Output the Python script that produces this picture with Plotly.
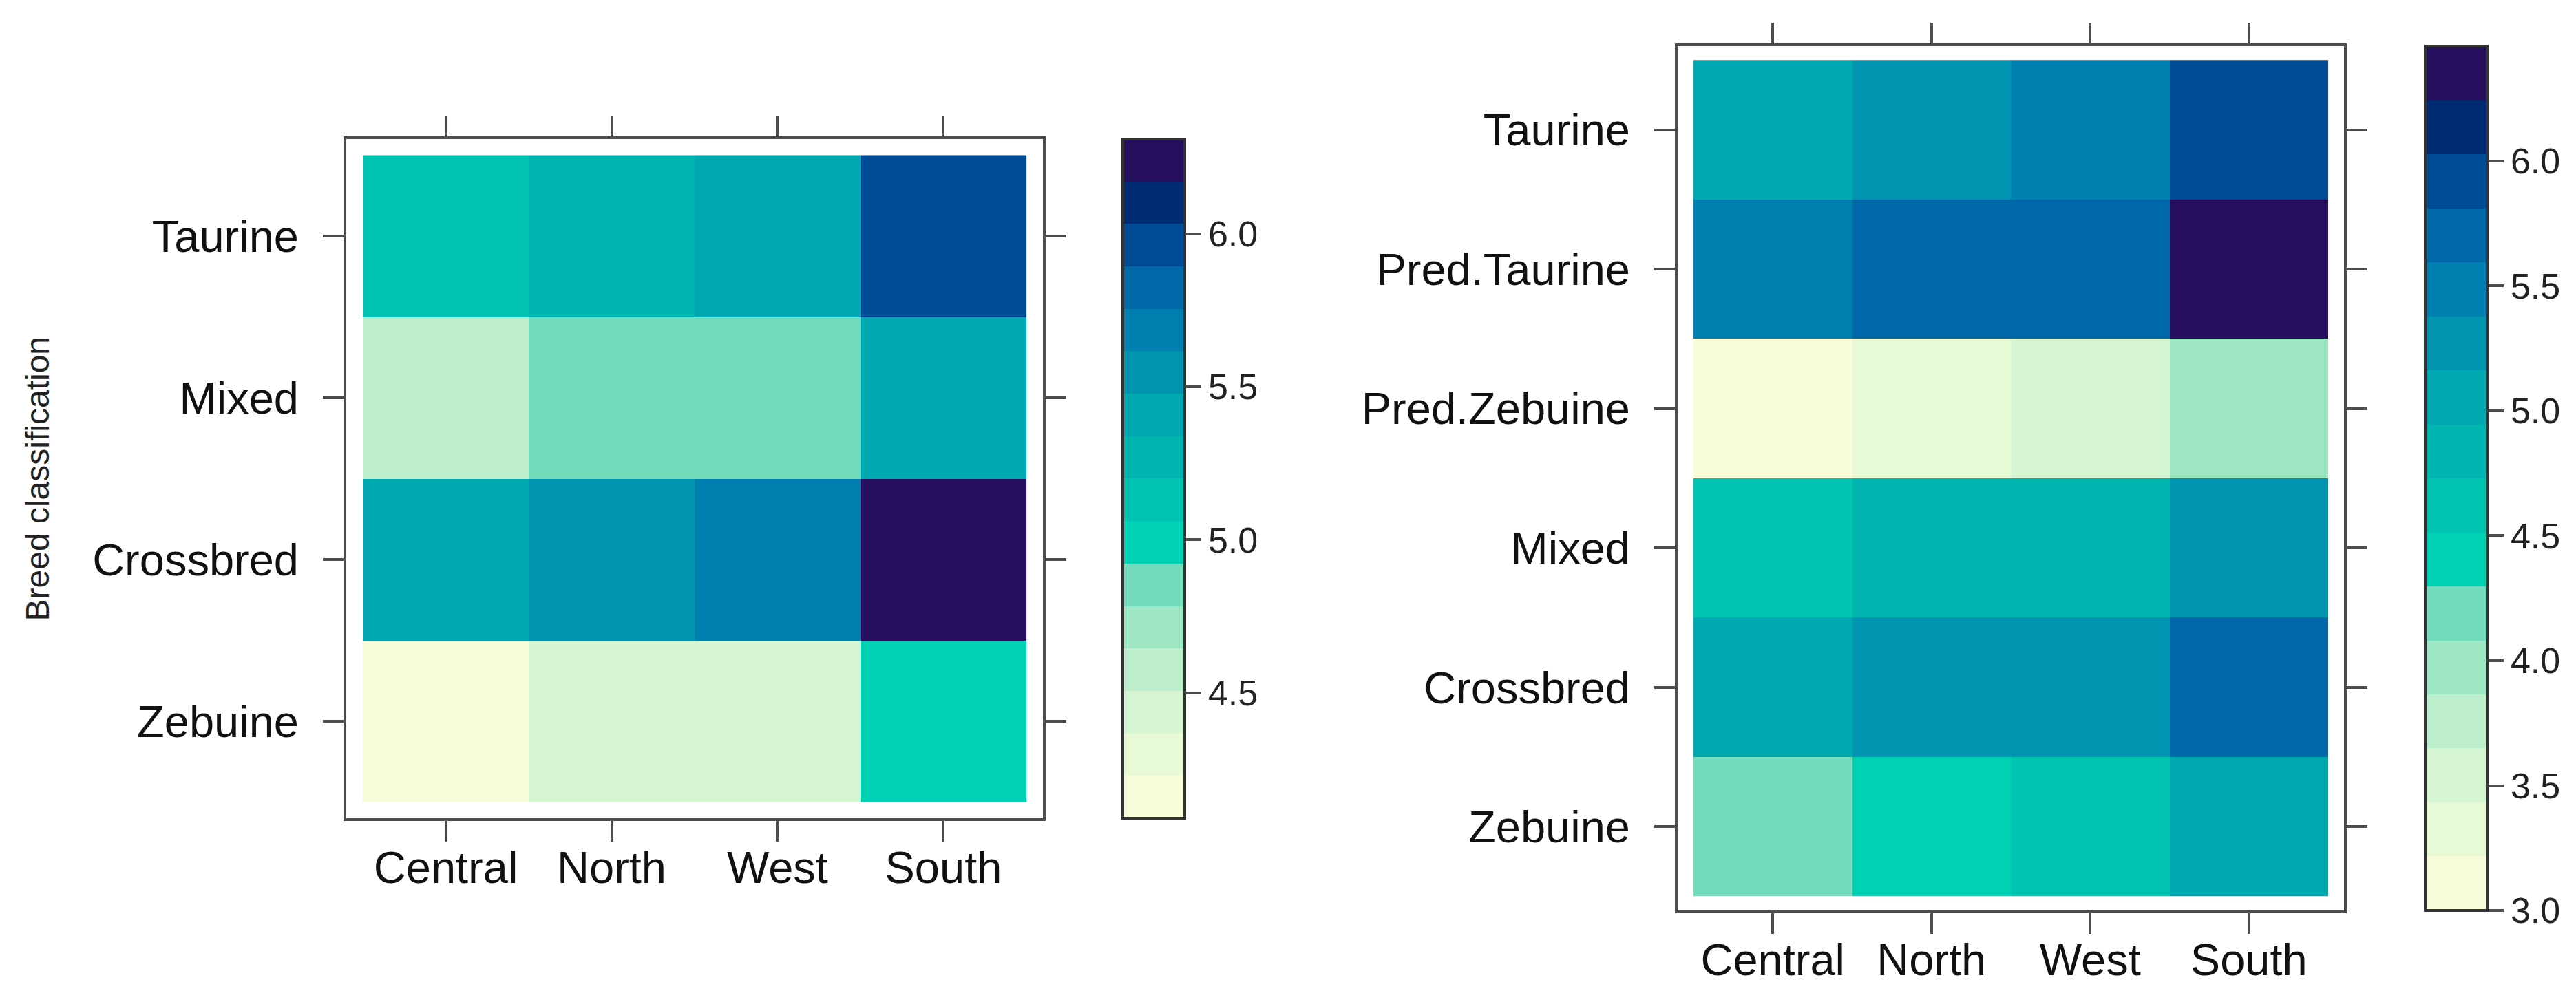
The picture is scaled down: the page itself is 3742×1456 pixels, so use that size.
import plotly.graph_objects as go

W, H = 3742, 1456

regions = ["Central", "North", "West", "South"]

left_breeds = ["Taurine", "Mixed", "Crossbred", "Zebuine"]          # top to bottom
left_values = [
    [5.13, 5.27, 5.41, 5.97],   # Taurine
    [4.58, 4.85, 4.85, 5.41],   # Mixed
    [5.41, 5.55, 5.69, 6.31],   # Crossbred
    [4.09, 4.44, 4.44, 4.99],   # Zebuine
]
left_range = [4.09, 6.31]
left_ticks = [4.5, 5.0, 5.5, 6.0]

right_breeds = ["Taurine", "Pred.Taurine", "Pred.Zebuine", "Mixed", "Crossbred", "Zebuine"]
right_values = [
    [5.05, 5.27, 5.48, 5.92],   # Taurine
    [5.48, 5.70, 5.70, 6.46],   # Pred.Taurine
    [3.00, 3.32, 3.54, 3.97],   # Pred.Zebuine
    [4.62, 4.84, 4.84, 5.27],   # Mixed
    [5.05, 5.27, 5.27, 5.70],   # Crossbred
    [4.19, 4.40, 4.62, 5.05],   # Zebuine
]
right_range = [3.0, 6.46]
right_ticks = [3.0, 3.5, 4.0, 4.5, 5.0, 5.5, 6.0]

palette = ["#f8fcd9", "#e8f9d6", "#d6f5d2", "#bdeecb", "#9de6c3", "#72dcbc",
           "#00d1b5", "#00c3b1", "#00b4b0", "#00a8b2", "#0094b0", "#0080b1",
           "#0068a9", "#004b95", "#002c73", "#260f5e"]

n = len(palette)
cscale = []
for i, c in enumerate(palette):
    cscale.append([i / n, c])
    cscale.append([(i + 1) / n, c])

FONT = "Liberation Sans"
LINE = "#4d4d4d"

def px_x(p):
    return p / W

def px_y(p):
    return 1 - p / H

# panel boxes in pixels
L_box = dict(x0=495, x1=1507, y0=194, y1=1181)
R_box = dict(x0=2429, x1=3397, y0=59, y1=1315)
L_cb = dict(x0=1623, x1=1713)
R_cb = dict(x0=3515, x1=3605)

def colorbar(box, cb, ticks):
    return dict(
        x=px_x(cb["x0"]), xanchor="left", xref="paper", xpad=0,
        y=(px_y(box["y0"]) + px_y(box["y1"])) / 2, yanchor="middle", ypad=0,
        len=(box["y1"] - box["y0"]) / H, lenmode="fraction",
        thickness=cb["x1"] - cb["x0"], thicknessmode="pixels",
        outlinewidth=4, outlinecolor="#333333",
        ticks="outside", ticklen=22, tickwidth=4, tickcolor=LINE,
        tickvals=ticks, ticktext=[f"{t:.1f}" for t in ticks],
        tickfont=dict(family=FONT, size=52, color="#222222"),
    )

fig = go.Figure()
fig.add_trace(go.Heatmap(
    z=left_values[::-1], x=regions, y=left_breeds[::-1],
    colorscale=cscale, zmin=left_range[0], zmax=left_range[1],
    colorbar=colorbar(L_box, L_cb, left_ticks), xaxis="x", yaxis="y",
))
fig.add_trace(go.Heatmap(
    z=right_values[::-1], x=regions, y=right_breeds[::-1],
    colorscale=cscale, zmin=right_range[0], zmax=right_range[1],
    colorbar=colorbar(R_box, R_cb, right_ticks), xaxis="x2", yaxis="y2",
))

def axis_common():
    return dict(
        showline=True, linecolor=LINE, linewidth=4, mirror="ticks",
        ticks="outside", ticklen=30, tickwidth=4, tickcolor=LINE,
        showgrid=False, zeroline=False, type="category",
        tickfont=dict(family=FONT, size=65, color="#111111"),
    )

fig.update_layout(
    width=W, height=H, margin=dict(l=0, r=0, t=0, b=0),
    paper_bgcolor="white", plot_bgcolor="white",
    xaxis=dict(axis_common(), domain=[px_x(L_box["x0"]), px_x(L_box["x1"])],
               range=[-0.6, len(regions) - 0.4], anchor="y", ticklabelstandoff=-18),
    yaxis=dict(axis_common(), domain=[px_y(L_box["y1"]), px_y(L_box["y0"])],
               range=[-0.6, len(left_breeds) - 0.4], anchor="x", ticklabelstandoff=22),
    xaxis2=dict(axis_common(), domain=[px_x(R_box["x0"]), px_x(R_box["x1"])],
                range=[-0.6, len(regions) - 0.4], anchor="y2", ticklabelstandoff=-18),
    yaxis2=dict(axis_common(), domain=[px_y(R_box["y1"]), px_y(R_box["y0"])],
                range=[-0.6, len(right_breeds) - 0.4], anchor="x2", ticklabelstandoff=22),
    annotations=[dict(
        text="Breed classification", textangle=-90, showarrow=False,
        x=px_x(46), y=(px_y(L_box["y0"]) + px_y(L_box["y1"])) / 2,
        xref="paper", yref="paper", xanchor="center", yanchor="middle",
        font=dict(family=FONT, size=48, color="#222222"),
    )],
)

fig.write_html("out.html")
